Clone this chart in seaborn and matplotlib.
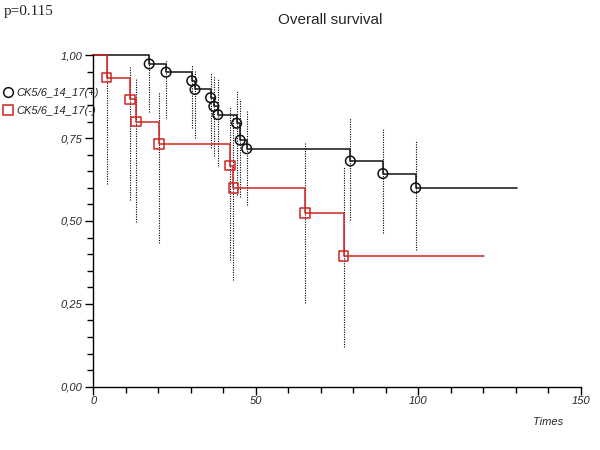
import numpy as np
import pandas as pd
import matplotlib
matplotlib.use("Agg")
import matplotlib.pyplot as plt
from matplotlib.lines import Line2D
from matplotlib.ticker import MultipleLocator, FixedLocator
import seaborn as sns

# =========================
# DATA
# =========================
grupo_pos = "CK5/6_14_17(+)"
grupo_neg = "CK5/6_14_17(-)"

t_pos = [17.2, 22.4, 30.3, 31.3, 36.1, 37.1, 38.3, 44.1, 45.2, 47.2, 79.1, 89.1, 99.2]
s_pos = [0.974, 0.949, 0.923, 0.897, 0.872, 0.846, 0.821, 0.795, 0.744, 0.718, 0.681, 0.643, 0.600]
lo_pos = [0.830, 0.810, 0.780, 0.750, 0.719, 0.696, 0.665, 0.578, 0.571, 0.548, 0.503, 0.463, 0.412]
hi_pos = [1.000, 0.986, 0.971, 0.953, 0.946, 0.938, 0.930, 0.893, 0.868, 0.835, 0.810, 0.780, 0.744]
fin_pos = 130.3

t_neg = [4.1, 11.3, 13.1, 20.2, 42.1, 43.1, 65.1, 77.0]
s_neg = [0.933, 0.867, 0.800, 0.733, 0.667, 0.600, 0.525, 0.394]
lo_neg = [0.612, 0.563, 0.498, 0.435, 0.382, 0.322, 0.252, 0.121]
hi_neg = [1.000, 0.966, 0.931, 0.888, 0.847, 0.820, 0.739, 0.662]
fin_neg = 120.2

p_valor = "p=0.115"
titulo = "Overall survival"
x_ticks = [0, 50, 100, 150]
y_ticks = [0.0, 0.25, 0.5, 0.75, 1.0]
y_labels = ["0,00", "0,25", "0,50", "0,75", "1,00"]

ROJO = "#d02424"
NEGRO = "#111111"

# =========================
# TABLAS
# =========================
def curva(grupo, t, s, fin):
    return pd.DataFrame({
        "Tiempo": [0] + list(t) + [fin],
        "Superv": [1.0] + list(s) + [s[-1]],
        "Grupo": grupo,
    })

df_curvas = pd.concat([curva(grupo_pos, t_pos, s_pos, fin_pos),
                       curva(grupo_neg, t_neg, s_neg, fin_neg)], ignore_index=True)
df_eventos = pd.concat([
    pd.DataFrame({"Tiempo": t_pos, "Superv": s_pos, "lo": lo_pos, "hi": hi_pos, "Grupo": grupo_pos}),
    pd.DataFrame({"Tiempo": t_neg, "Superv": s_neg, "lo": lo_neg, "hi": hi_neg, "Grupo": grupo_neg}),
], ignore_index=True)

paleta = {grupo_pos: NEGRO, grupo_neg: ROJO}
marcas = {grupo_pos: "o", grupo_neg: "s"}

# =========================
# FIGURA
# =========================
sns.set_style("white")
plt.rcParams["font.family"] = ["Liberation Sans", "DejaVu Sans"]

fig = plt.figure(figsize=(6, 4.5), dpi=100)
ax = fig.add_axes([0.1555, 0.1407, 0.8125, 0.7364])

# intervalos de confianza (punteados)
ax.vlines(df_eventos["Tiempo"], df_eventos["lo"], df_eventos["hi"],
          colors="black", linestyles=(0, (1, 1.2)), linewidth=0.8, zorder=1)

# curvas escalonadas
sns.lineplot(data=df_curvas, x="Tiempo", y="Superv", hue="Grupo", palette=paleta,
             estimator=None, sort=False, drawstyle="steps-post", linewidth=1.1,
             legend=False, ax=ax, zorder=2)
for ln in ax.lines:
    ln.set_clip_on(False)

# marcas en los eventos
for g in [grupo_pos, grupo_neg]:
    sub = df_eventos[df_eventos["Grupo"] == g]
    sns.scatterplot(data=sub, x="Tiempo", y="Superv", marker=marcas[g], s=48,
                    facecolor="none", edgecolor=paleta[g], linewidth=1.1,
                    legend=False, ax=ax, zorder=3, clip_on=False)

ax.set_xlim(0, 150)
ax.set_ylim(0, 1)
sns.despine(ax=ax)
for sp in ["left", "bottom"]:
    ax.spines[sp].set_color("black")
    ax.spines[sp].set_linewidth(1.0)

ax.xaxis.set_major_locator(FixedLocator(x_ticks))
ax.xaxis.set_minor_locator(MultipleLocator(10))
ax.yaxis.set_major_locator(FixedLocator(y_ticks))
ax.yaxis.set_minor_locator(MultipleLocator(0.05))
ax.set_yticklabels(y_labels)
ax.tick_params(which="major", direction="out", length=6, width=1, color="black",
               labelsize=8, bottom=True, left=True)
ax.tick_params(which="minor", direction="out", length=4, width=1, color="black",
               bottom=True, left=True)
ax.tick_params(axis="y", pad=2)
ax.tick_params(axis="x", pad=1)
for lab in ax.get_xticklabels() + ax.get_yticklabels():
    lab.set_fontstyle("italic")
ax.set_xlabel("")
ax.set_ylabel("")

# textos
fig.text(330 / 600, 1 - 20 / 450, titulo, ha="center", va="center", fontsize=11)
fig.text(4 / 600, 1 - 12 / 450, p_valor, ha="left", va="center", fontsize=11,
         family=["Liberation Serif", "DejaVu Serif"])
fig.text(548 / 600, 1 - 422 / 450, "Times", ha="center", va="center",
         fontsize=8, fontstyle="italic")

# leyenda
handles = [
    Line2D([], [], marker="o", linestyle="none", markerfacecolor="none",
           markeredgecolor=NEGRO, markersize=7, markeredgewidth=1.1, label=grupo_pos),
    Line2D([], [], marker="s", linestyle="none", markerfacecolor="none",
           markeredgecolor=ROJO, markersize=7, markeredgewidth=1.1, label=grupo_neg),
]
leg = fig.legend(handles=handles, loc="upper left", bbox_to_anchor=(-0.012, 1 - 78 / 450),
                 frameon=False, handlelength=1.0, handletextpad=0.2, labelspacing=0.75,
                 prop={"size": 8, "style": "italic"})

fig.savefig("out.png", dpi=100)
